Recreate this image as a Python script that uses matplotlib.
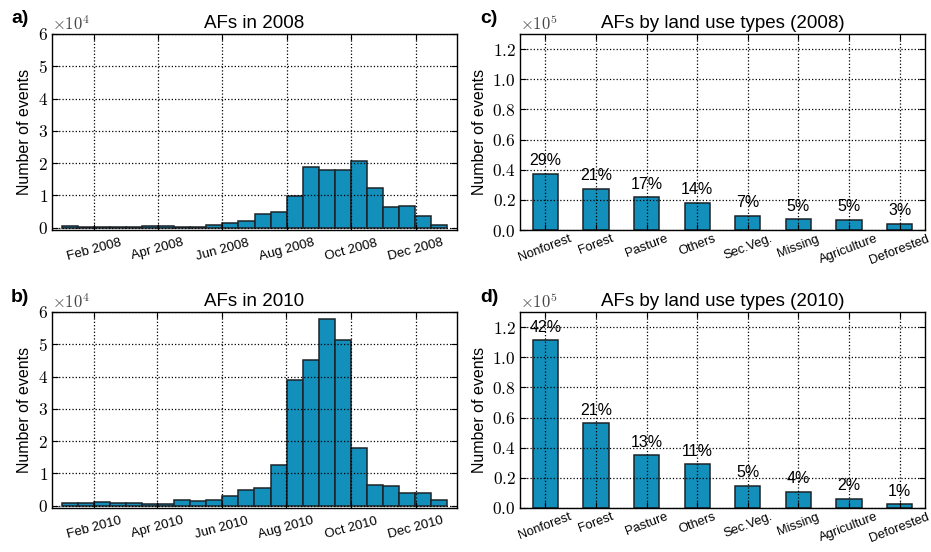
import numpy as np
import matplotlib
matplotlib.use("Agg")
import matplotlib.pyplot as plt
import matplotlib.dates as mdates
from matplotlib.ticker import FuncFormatter, MultipleLocator
import datetime as dt

plt.rcParams['font.family'] = ['Liberation Sans', 'DejaVu Sans']
plt.rcParams['mathtext.fontset'] = 'cm'

# half-month counts of active fires
counts_2008 = [600, 300, 300, 200, 200, 600, 500, 200, 300, 700, 1400, 2000,
               4300, 5000, 9700, 18700, 18000, 17800, 20700, 12200, 6300, 6800, 3600, 1000]
counts_2010 = [1000, 1000, 1300, 1000, 900, 600, 600, 1800, 1600, 1900, 2900, 4800,
               5400, 12600, 39000, 45100, 57900, 51400, 17900, 6300, 6000, 4100, 3800, 1700]

land_types = ['Nonforest', 'Forest', 'Pasture', 'Others', 'Sec.Veg.',
              'Missing', 'Agriculture', 'Deforested']
land_2008 = [37300, 27300, 21800, 18000, 9300, 7100, 6900, 4000]
pct_2008 = [29, 21, 17, 14, 7, 5, 5, 3]
land_2010 = [111100, 56200, 34900, 29100, 14700, 10700, 6200, 2400]
pct_2010 = [42, 21, 13, 11, 5, 4, 2, 1]

bar_color = '#138fbb'
edge_color = '#1c2328'


def style_axes(ax):
    ax.grid(True, color='k', linestyle=':', linewidth=0.9)
    ax.set_axisbelow(False)
    ax.tick_params(direction='in', top=True, right=True, length=4, width=0.8)
    ax.tick_params(axis='y', labelsize=12.5, pad=3)
    for s in ax.spines.values():
        s.set_linewidth(1.0)
        s.set_color('k')
    ax.set_ylabel('Number of events', fontsize=11.5)


def hist_panel(ax, year, counts):
    t0 = mdates.date2num(dt.datetime(year, 1, 1))
    t1 = mdates.date2num(dt.datetime(year, 12, 31))
    edges = np.linspace(t0, t1, len(counts) + 1)
    ax.bar(edges[:-1], counts, width=np.diff(edges), align='edge',
           color=bar_color, edgecolor=edge_color, linewidth=1.1, zorder=1)
    ax.set_xlim(t0 - 9, t1 + 9)
    ax.set_ylim(-700, 60000)
    ax.yaxis.set_major_locator(MultipleLocator(10000))
    ax.yaxis.set_major_formatter(FuncFormatter(lambda v, p: f'${v/1e4:g}$'))
    ax.xaxis.set_major_locator(mdates.MonthLocator(bymonth=[2, 4, 6, 8, 10, 12]))
    ax.xaxis.set_major_formatter(mdates.DateFormatter('%b %Y'))
    style_axes(ax)
    for lab in ax.get_xticklabels():
        lab.set_rotation(15)
        lab.set_fontsize(9.5)
    ax.tick_params(axis='x', pad=5)
    ax.set_title(f'AFs in {year}', fontsize=13.5, pad=4)
    ax.text(0.0, 1.005, r'$\times10^{4}$', transform=ax.transAxes,
            fontsize=12, ha='left', va='bottom', color='#444444')


def land_panel(ax, year, values, pcts):
    x = np.arange(len(land_types))
    ax.bar(x, values, width=0.5, color=bar_color, edgecolor=edge_color,
           linewidth=1.1, zorder=1)
    for xi, v, p in zip(x, values, pcts):
        ax.annotate(f'{p}%', (xi, v), xytext=(0, 4), textcoords='offset points',
                    ha='center', va='bottom', fontsize=11.5)
    ax.set_xlim(-0.5, 7.5)
    ax.set_ylim(0, 130000)
    ax.yaxis.set_major_locator(MultipleLocator(20000))
    ax.yaxis.set_major_formatter(FuncFormatter(lambda v, p: f'${v/1e5:.1f}$'))
    ax.set_xticks(x)
    ax.set_xticklabels(land_types, rotation=21, fontsize=9.3)
    style_axes(ax)
    ax.tick_params(axis='x', pad=2)
    ax.set_title(f'AFs by land use types ({year})', fontsize=13.5, pad=4)
    ax.text(0.0, 1.005, r'$\times10^{5}$', transform=ax.transAxes,
            fontsize=12, ha='left', va='bottom', color='#444444')


fig = plt.figure(figsize=(9.31, 5.52), dpi=100)
W, H = 405 / 931, 196 / 552
ax_a = fig.add_axes([52 / 931, 1 - 230 / 552, W, H])
ax_b = fig.add_axes([52 / 931, 1 - 508 / 552, W, H])
ax_c = fig.add_axes([520 / 931, 1 - 230 / 552, W, H])
ax_d = fig.add_axes([520 / 931, 1 - 508 / 552, W, H])

hist_panel(ax_a, 2008, counts_2008)
hist_panel(ax_b, 2010, counts_2010)
land_panel(ax_c, 2008, land_2008, pct_2008)
land_panel(ax_d, 2010, land_2010, pct_2010)

# panel letters
for letter, (px, py) in zip(['a)', 'b)', 'c)', 'd)'],
                            [(11, 23), (11, 302), (480, 23), (480, 302)]):
    fig.text(px / 931, 1 - py / 552, letter, fontsize=14, fontweight='bold',
             ha='left', va='baseline')

fig.savefig('out.png', dpi=100)
